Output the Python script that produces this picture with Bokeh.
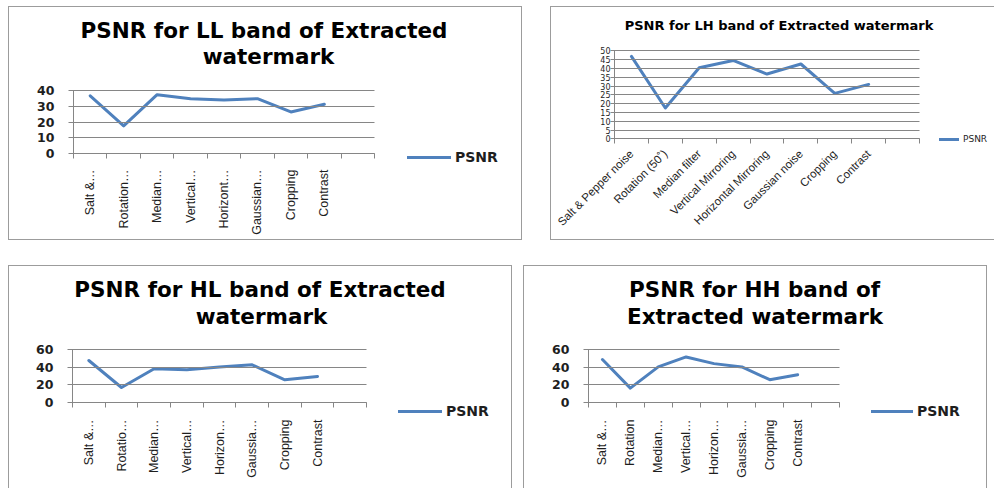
import math
from bokeh.plotting import figure
from bokeh.models import Range1d, FixedTicker, Label, Legend, LegendItem, Spacer, ColumnDataSource
from bokeh.core.properties import value
from bokeh.layouts import row, column
from bokeh.embed import file_html
from bokeh.resources import INLINE

# ---------------- data ----------------
ATTACKS_LL = ["Salt &…", "Rotation…", "Median…", "Vertical…", "Horizont…", "Gaussian…", "Cropping", "Contrast"]
ATTACKS_LH = ["Salt & Pepper noise", "Rotation (50˚)", "Median filter", "Vertical Mirroring",
              "Horizontal Mirroring", "Gaussian noise", "Cropping", "Contrast"]
ATTACKS_HL = ["Salt &…", "Rotatio…", "Median…", "Vertical…", "Horizon…", "Gaussia…", "Cropping", "Contrast"]
ATTACKS_HH = ["Salt &…", "Rotation", "Median…", "Vertical…", "Horizon…", "Gaussia…", "Cropping", "Contrast"]

PSNR_LL = [36.8, 17.6, 37.5, 35.0, 34.2, 35.0, 26.5, 31.4]
PSNR_LH = [46.8, 17.5, 40.4, 44.5, 36.8, 42.5, 25.8, 30.9]
PSNR_HL = [47.8, 17.1, 38.4, 37.2, 40.3, 42.9, 25.8, 29.6]
PSNR_HH = [48.6, 16.3, 40.3, 51.6, 44.0, 40.3, 25.8, 31.5]

YTICKS_LL = [0, 10, 20, 30, 40]
YTICKS_LH = [0, 5, 10, 15, 20, 25, 30, 35, 40, 45, 50]
YTICKS_HL = [0, 20, 40, 60]
YTICKS_HH = [0, 20, 40, 60]

TITLE_LL = ["PSNR for LL band of Extracted", "watermark"]
TITLE_LH = ["PSNR for LH band of Extracted watermark"]
TITLE_HL = ["PSNR for HL band of Extracted", "watermark"]
TITLE_HH = ["PSNR for HH band of", "Extracted watermark"]

SERIES = "PSNR"

# ---------------- style ----------------
LINE = "#4F81BD"
GRID = "#868686"
FRAME = "#9c9c9c"
TXT = "#1e1e1e"
BIG = "DejaVu Sans"
CAT = "Liberation Sans"


def panel(cats, vals, yticks, title_lines, W, H, L, R, T, B,
          title_pos, title_size,
          ytick_size, ytick_bold, ytick_out, ytick_standoff,
          xlab_size, xlab_vertical, xlab_standoff,
          leg_px, leg_glyph_w, leg_h, leg_size, leg_bold, sides):
    """W,H canvas size; L,R,T,B pixel edges of the plot area inside the canvas."""
    nslots = len(cats) + 1          # the Excel chart kept one empty category slot
    ymax = yticks[-1]
    sx = (R - L) / nslots           # px per category slot
    sy = (B - T) / ymax             # px per PSNR unit
    x_range = Range1d(-L / sx, (W - L) / sx)
    y_range = Range1d(-(H - B) / sy, ymax + T / sy)

    p = figure(width=W, height=H, x_range=x_range, y_range=y_range,
               output_backend="svg", toolbar_location=None, tools="", title=None,
               min_border=0, min_border_left=0, min_border_right=0,
               min_border_top=0, min_border_bottom=0)
    p.background_fill_color = "white"
    p.border_fill_color = "white"
    p.outline_line_color = None
    p.xgrid.grid_line_color = None
    p.ygrid.grid_line_color = None

    xs = [i + 0.5 for i in range(len(cats))]
    r = p.line(xs, vals, line_color=LINE, line_width=3, line_join="round", line_cap="round")

    # value axis; its inward ticks span the plot area like Excel gridlines
    yax = p.yaxis[0]
    yax.fixed_location = 0
    yax.bounds = (0, ymax)
    yax.ticker = FixedTicker(ticks=yticks)
    yax.axis_line_color = GRID
    yax.major_tick_line_color = GRID
    yax.major_tick_out = ytick_out
    yax.major_tick_in = int(round(R - L))
    yax.minor_tick_line_color = None
    yax.major_label_standoff = ytick_standoff
    yax.major_label_text_font = BIG
    yax.major_label_text_font_size = ytick_size
    yax.major_label_text_font_style = "bold" if ytick_bold else "normal"
    yax.major_label_text_color = TXT

    # category axis at PSNR = 0 with tick marks at slot boundaries
    xax = p.xaxis[0]
    xax.fixed_location = 0
    xax.bounds = (0, nslots)
    xax.axis_line_color = GRID
    xax.major_tick_line_color = None
    xax.major_tick_out = 0
    xax.major_tick_in = 0
    xax.minor_tick_line_color = GRID
    xax.minor_tick_out = 5
    xax.minor_tick_in = 0
    if xlab_vertical:
        # upward-reading category names hanging from the axis, ends aligned
        xax.ticker = FixedTicker(ticks=[], minor_ticks=list(range(nslots + 1)))
        src = ColumnDataSource(dict(x=xs, y=[0] * len(xs), text=cats))
        p.text(x="x", y="y", text="text", source=src, angle=math.pi / 2,
               text_align="right", text_baseline="middle", y_offset=xlab_standoff,
               text_font=value(CAT), text_font_size=value(xlab_size), text_color=TXT)
    else:
        xax.ticker = FixedTicker(ticks=xs, minor_ticks=list(range(nslots + 1)))
        xax.major_label_overrides = {x: c for x, c in zip(xs, cats)}
        xax.major_label_orientation = math.pi / 4
        xax.major_label_standoff = xlab_standoff
        xax.major_label_text_font = CAT
        xax.major_label_text_font_size = xlab_size
        xax.major_label_text_color = TXT

    # chart title lines (pixel centre x, baseline y)
    for (cx, by), line in zip(title_pos, title_lines):
        p.add_layout(Label(x=(cx - L) / sx, y=(B - by) / sy, text=line,
                           text_align="center", text_baseline="alphabetic",
                           text_font=BIG, text_font_style="bold",
                           text_font_size=title_size, text_color="#000000"))

    gx, gy = leg_px                 # glyph start x, legend centre y (pixels)
    legend = Legend(items=[LegendItem(label=SERIES, renderers=[r])],
                    location=(gx, H - gy - leg_h / 2),
                    glyph_width=leg_glyph_w, glyph_height=leg_h, label_height=leg_h,
                    label_standoff=4, padding=0, margin=0, spacing=0,
                    border_line_color=None, background_fill_alpha=0,
                    label_text_font=BIG, label_text_font_size=leg_size,
                    label_text_font_style="bold" if leg_bold else "normal",
                    label_text_color=TXT)
    p.add_layout(legend)

    st = {"box-sizing": "border-box"}
    for key, s in [("t", "top"), ("r", "right"), ("b", "bottom"), ("l", "left")]:
        st["border-" + s] = ("1px solid " + FRAME) if key in sides else "none"
    p.styles = st
    return p


# panel origins in the page: p1 (8,6), p2 (550,6), p3 (8,265), p4 (523,265)
p1 = panel(ATTACKS_LL, PSNR_LL, YTICKS_LL, TITLE_LL, 514, 234, 64, 365, 83.3, 146,
           [(254.5, 22.7), (259, 48.8)], "21.5px",
           "12.5px", True, 5, 14,
           "12.5px", True, 16,
           (398, 150), 44, 16, "14px", True, "trbl")

p2 = panel(ATTACKS_LH, PSNR_LH, YTICKS_LH, TITLE_LH, 444, 234, 63, 368, 43.3, 131.3,
           [(227.5, 18.2)], "13px",
           "8px", False, 4, 0,
           "11.5px", False, 8,
           (388, 132), 20, 10, "9px", False, "tbl")

p3 = panel(ATTACKS_HL, PSNR_HL, YTICKS_HL, TITLE_HL, 504, 223, 63, 357, 83.3, 136,
           [(250.5, 22.7), (252, 49.8)], "21.5px",
           "12.5px", True, 5, 14,
           "12.5px", True, 17,
           (389, 145), 44, 16, "14px", True, "trl")

p4 = panel(ATTACKS_HH, PSNR_HH, YTICKS_HH, TITLE_HH, 464, 223, 64, 315, 83, 136,
           [(230, 22.7), (230.5, 49.8)], "21.5px",
           "12.5px", True, 5, 14,
           "12.5px", True, 17,
           (347, 145), 42, 16, "14px", True, "trl")

layout = column(Spacer(height=6),
                row(Spacer(width=8), p1, Spacer(width=28), p2),
                Spacer(height=25),
                row(Spacer(width=8), p3, Spacer(width=11), p4))

open("out.html", "w").write(file_html(layout, INLINE))
